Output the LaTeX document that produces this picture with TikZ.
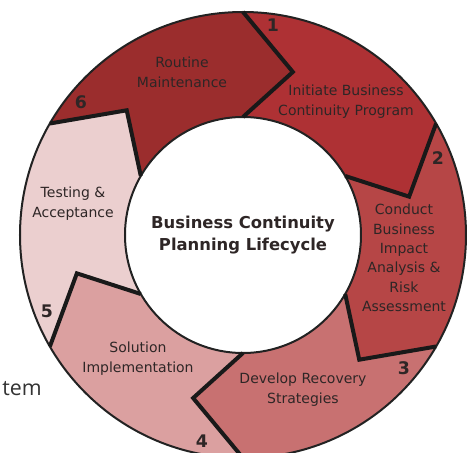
\documentclass[tikz,border=0pt]{standalone}
\usepackage{fontspec}
\setmainfont{DejaVu Sans}
\newfontfamily\pagefont{Open Sans}
\definecolor{segroutine}{HTML}{9B2D2D}
\definecolor{seginit}{HTML}{AE3134}
\definecolor{segimpact}{HTML}{B64646}
\definecolor{segrecover}{HTML}{C87171}
\definecolor{segsolution}{HTML}{DBA0A0}
\definecolor{segtesting}{HTML}{EBCFCF}
\definecolor{ringline}{HTML}{222222}
\definecolor{txt}{HTML}{2E2626}

\begin{document}
\begin{tikzpicture}[x=0.75pt, y=0.75pt,
	ring/.style={draw=ringline, line width=1.5pt},
	edge/.style={draw=black!90, line width=3pt, line join=miter},
	lbl/.style={align=center, text=txt, inner sep=0pt, font=\fontsize{10.5}{15}\selectfont},
	num/.style={text=txt, inner sep=0pt, font=\fontsize{13}{13}\selectfont\bfseries}]
			\useasboundingbox (-243,-218) rectangle (229,235);
			% Segments
			\fill[segroutine] (150:223) arc[start angle=150, end angle=90, radius=223] -- (73:170.5) -- (90:118) arc[start angle=90, end angle=150, radius=118] -- (133:170.5) -- cycle;
			\fill[seginit] (90:223) arc[start angle=90, end angle=30, radius=223] -- (13:170.5) -- (30:118) arc[start angle=30, end angle=90, radius=118] -- (73:170.5) -- cycle;
			\fill[segimpact] (30:223) arc[start angle=30, end angle=-30, radius=223] -- (-47:170.5) -- (-30:118) arc[start angle=-30, end angle=30, radius=118] -- (13:170.5) -- cycle;
			\fill[segrecover] (-30:223) arc[start angle=-30, end angle=-90, radius=223] -- (-107:170.5) -- (-90:118) arc[start angle=-90, end angle=-30, radius=118] -- (-47:170.5) -- cycle;
			\fill[segsolution] (270:223) arc[start angle=270, end angle=210, radius=223] -- (193:170.5) -- (210:118) arc[start angle=210, end angle=270, radius=118] -- (253:170.5) -- cycle;
			\fill[segtesting] (210:223) arc[start angle=210, end angle=150, radius=223] -- (133:170.5) -- (150:118) arc[start angle=150, end angle=210, radius=118] -- (193:170.5) -- cycle;
			% Ring outline
			\draw[ring] (0,0) circle[radius=223];
			\draw[ring] (0,0) circle[radius=118];
			% Chevrons between the steps
			\draw[edge] (90:223) -- (73:170.5) -- (90:118);
			\draw[edge] (30:223) -- (13:170.5) -- (30:118);
			\draw[edge] (-30:223) -- (-47:170.5) -- (-30:118);
			\draw[edge] (-90:223) -- (-107:170.5) -- (-90:118);
			\draw[edge] (210:223) -- (193:170.5) -- (210:118);
			\draw[edge] (150:223) -- (133:170.5) -- (150:118);
			% Step labels
			\node[lbl] (routine) at (-61,163) {Routine\\Maintenance};
			\node[lbl] (initiate) at (103,133) {Initiate Business\\Continuity Program};
			\node[lbl, font=\fontsize{10.5}{14.5}\selectfont] (impact) at (161,-23) {Conduct\\Business\\Impact\\Analysis \&\\Risk\\Assessment};
			\node[lbl] (recovery) at (60,-155) {Develop Recovery\\Strategies};
			\node[lbl] (solution) at (-105,-124) {Solution\\Implementation};
			\node[lbl] (testing) at (-170,31) {Testing \&\\Acceptance};
			% Step numbers
			\node[num] (n1) at (30,210) {1};
			\node[num] (n2) at (195,77) {2};
			\node[num] (n3) at (161,-133) {3};
			\node[num] (n4) at (-41,-206) {4};
			\node[num] (n5) at (-196,-76) {5};
			\node[num] (n6) at (-162,133) {6};
			% Centre
			\node[align=center, text=txt, font=\fontsize{12.3}{16.5}\selectfont\bfseries] (title) at (0,0) {Business Continuity\\Planning Lifecycle};
			% page text
			\node[anchor=east, inner sep=0pt, text=black!80, font=\pagefont\fontsize{16}{16}\selectfont] (pagetext) at (-201,-154) {tem};
		\end{tikzpicture}
\end{document}
